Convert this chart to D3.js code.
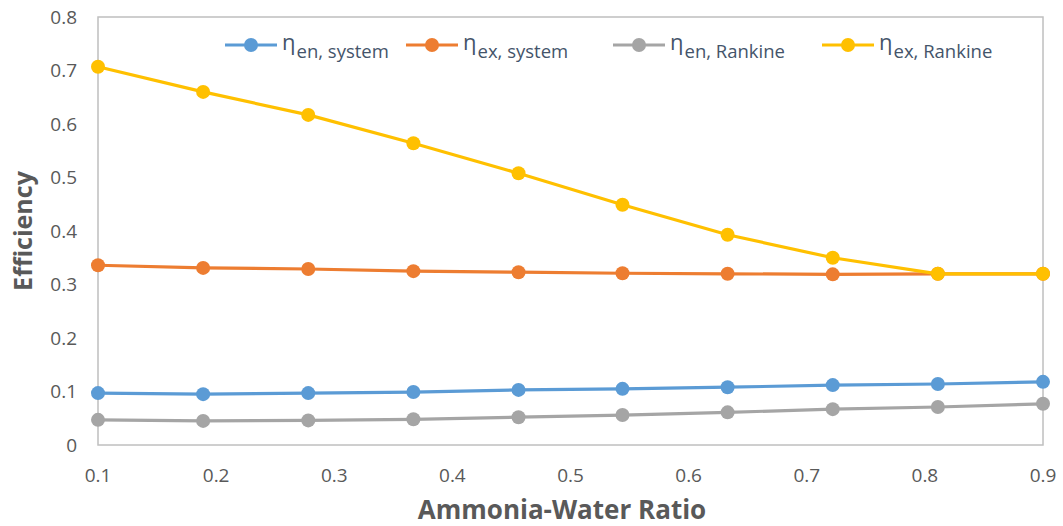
<!DOCTYPE html>
<html>
<head>
<meta charset="utf-8">
<script src="https://cdn.jsdelivr.net/npm/d3@7"></script>
<style>
  body { margin: 0; background: #fff; }
  text { font-family: "Open Sans", "Liberation Sans", sans-serif; }
</style>
</head>
<body>
<div id="container"></div>
<script>
// Ammonia-water ratio (10 evenly spaced points)
const ratio = [0.1, 0.189, 0.278, 0.367, 0.456, 0.544, 0.633, 0.722, 0.811, 0.9];

const enSystem   = [0.097, 0.095, 0.097, 0.099, 0.103, 0.105, 0.108, 0.112, 0.114, 0.118];
const exSystem   = [0.336, 0.331, 0.329, 0.325, 0.323, 0.321, 0.320, 0.319, 0.320, 0.320];
const enRankine  = [0.047, 0.045, 0.046, 0.048, 0.052, 0.056, 0.061, 0.067, 0.071, 0.077];
const exRankine  = [0.707, 0.660, 0.617, 0.564, 0.508, 0.449, 0.393, 0.350, 0.320, 0.320];

const seriesSub    = ["en, system", "ex, system", "en, Rankine", "ex, Rankine"];
const seriesColors = ["#5B9BD5", "#ED7D31", "#A5A5A5", "#FFC000"];
const xTicks = [0.1, 0.2, 0.3, 0.4, 0.5, 0.6, 0.7, 0.8, 0.9];
const yTicks = [0, 0.1, 0.2, 0.3, 0.4, 0.5, 0.6, 0.7, 0.8];

const series = [enSystem, exSystem, enRankine, exRankine].map((vals, i) => ({
  sub: seriesSub[i], color: seriesColors[i],
  pts: vals.map((v, j) => ({ x: ratio[j], y: v }))
}));

const width = 1063, height = 526;
const m = { left: 98, right: 1043, top: 17, bottom: 445 };

const x = d3.scaleLinear().domain([0.1, 0.9]).range([m.left, m.right]);
const y = d3.scaleLinear().domain([0, 0.8]).range([m.bottom, m.top]);

const svg = d3.create("svg").attr("width", width).attr("height", height);

// plot frame
svg.append("rect")
  .attr("x", m.left).attr("y", m.top)
  .attr("width", m.right - m.left).attr("height", m.bottom - m.top)
  .attr("fill", "none").attr("stroke", "#BFBFBF").attr("stroke-width", 1.5);

// tick labels
svg.append("g").selectAll("text").data(yTicks).enter().append("text")
  .attr("x", 77).attr("y", d => y(d)).attr("dy", "0.35em")
  .attr("text-anchor", "end").attr("font-size", 19).attr("fill", "#595959")
  .text(d => d === 0 ? "0" : d.toFixed(1));

svg.append("g").selectAll("text").data(xTicks).enter().append("text")
  .attr("x", d => x(d)).attr("y", 482)
  .attr("text-anchor", "middle").attr("font-size", 19).attr("fill", "#595959")
  .text(d => d.toFixed(1));

// axis titles
svg.append("text")
  .attr("transform", `translate(32, ${(m.top + m.bottom) / 2}) rotate(-90)`)
  .attr("text-anchor", "middle").attr("font-size", 25).attr("font-weight", "bold")
  .attr("fill", "#595959").text("Efficiency");

svg.append("text")
  .attr("x", 562).attr("y", 519)
  .attr("text-anchor", "middle").attr("font-size", 26).attr("font-weight", "bold")
  .attr("fill", "#595959").text("Ammonia-Water Ratio");

// lines + markers
const line = d3.line().x(d => x(d.x)).y(d => y(d.y));
const sg = svg.append("g").selectAll("g").data(series).enter().append("g");
sg.append("path")
  .attr("d", d => line(d.pts))
  .attr("fill", "none").attr("stroke", d => d.color).attr("stroke-width", 3.2)
  .attr("stroke-linejoin", "round");
sg.selectAll("circle").data(d => d.pts.map(p => ({ ...p, color: d.color }))).enter().append("circle")
  .attr("cx", d => x(d.x)).attr("cy", d => y(d.y)).attr("r", 7)
  .attr("fill", d => d.color);

// legend
const legX = [225, 406, 613, 822];
const lg = svg.append("g").selectAll("g").data(series).enter().append("g")
  .attr("transform", (d, i) => `translate(${legX[i]}, 45)`);
lg.append("line").attr("x1", 0).attr("x2", 52)
  .attr("stroke", d => d.color).attr("stroke-width", 3.2);
lg.append("circle").attr("cx", 26).attr("r", 7).attr("fill", d => d.color);
const lt = lg.append("text").attr("x", 57).attr("y", 5).attr("fill", "#44546A");
lt.append("tspan").attr("font-size", 22).text("η");
lt.append("tspan").attr("font-size", 18.5).attr("dy", 8).attr("dx", 1).text(d => d.sub);

document.getElementById("container").append(svg.node());
</script>
</body>
</html>
